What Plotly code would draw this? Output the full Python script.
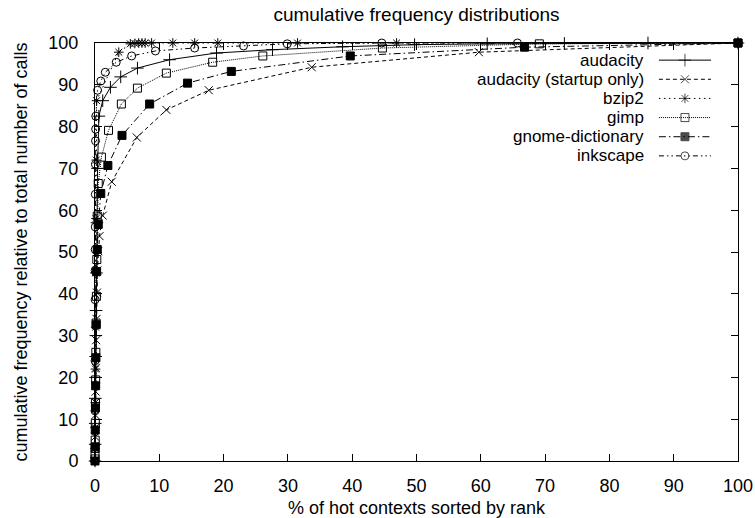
import plotly.graph_objects as go

# ---------------- data ----------------
series_names = ["audacity", "audacity (startup only)", "bzip2", "gimp",
                "gnome-dictionary", "inkscape"]

audacity_x = [0, 0.02, 0.04, 0.06, 0.08, 0.1, 0.13, 0.17, 0.22, 0.3, 0.4, 0.6, 1.2,
              2.4, 4.0, 6.6, 11.6, 18.9, 27.6, 38.5, 49.7, 61, 73, 86, 100]
audacity_y = [0, 4, 9, 15, 20, 25, 30, 36, 45, 57, 70, 82.5, 86.2,
              89.4, 91.9, 94.0, 96.0, 97.6, 98.4, 99.1, 99.6, 99.8, 99.9, 100, 100]

startup_x = [0, 0.03, 0.06, 0.1, 0.14, 0.18, 0.24, 0.3, 0.38, 0.5, 0.7, 1.2,
             2.6, 6.5, 11.1, 17.7, 33.7, 59.7, 100]
startup_y = [0, 5.8, 11, 16.6, 22.3, 28.9, 34, 40.3, 45.6, 50.2, 53.8, 58.7,
             66.8, 77.4, 84.0, 88.7, 94.2, 97.8, 100]

bzip2_x = [0, 0.02, 0.04, 0.06, 0.08, 0.1, 0.13, 0.16, 0.2, 0.25, 3.7, 5.5, 6.2,
           6.8, 7.3, 7.8, 8.8, 12.1, 15.5, 19.1, 31.5, 46.9, 100]
bzip2_y = [0, 3, 8, 14, 22, 32, 45, 58, 72, 86.2, 97.8, 99.8, 99.9,
           100, 100, 100, 100, 100, 100, 100, 100, 100, 100]

gimp_x = [0, 0.01, 0.02, 0.03, 0.05, 0.07, 0.1, 0.13, 0.17, 0.22, 0.28, 0.35, 0.5,
          1.0, 2.1, 4.1, 6.6, 11.1, 18.3, 26.1, 44.7, 69.1, 100]
gimp_y = [0.5, 1.5, 3, 5, 9, 13.9, 19.4, 26, 33, 39.4, 48.2, 58.6, 66.4,
          72.7, 79.1, 85.4, 89.2, 92.8, 95.4, 96.9, 98.8, 99.8, 100]

gnome_x = [0, 0.02, 0.04, 0.07, 0.1, 0.14, 0.18, 0.25, 0.35, 0.5, 0.9, 2.0,
           4.2, 8.5, 14.4, 21.2, 39.7, 66.8, 100]
gnome_y = [0, 3.4, 7.4, 12.7, 18, 24.7, 32.6, 45.3, 50.6, 56.6, 64.0, 70.7,
           77.9, 85.4, 90.4, 93.2, 96.9, 99.0, 100]

inkscape_x = [0, 0.005, 0.01, 0.015, 0.02, 0.03, 0.04, 0.05, 0.06, 0.08, 0.1, 0.12,
              0.4, 0.9, 1.6, 3.3, 5.7, 9.4, 15.5, 23.1, 29.9, 44.6, 65.7, 100]
inkscape_y = [0, 12, 24, 38.6, 45.6, 50.6, 56, 63.8, 71, 76.6, 79.4, 82.5,
              88.7, 90.9, 93.0, 95.4, 96.9, 98.1, 98.8, 99.3, 99.8, 100, 100, 100]

x_ticks = [0, 10, 20, 30, 40, 50, 60, 70, 80, 90, 100]
y_ticks = [0, 10, 20, 30, 40, 50, 60, 70, 80, 90, 100]

# ---------------- styles ----------------
FONT = "Liberation Sans, Arial, Helvetica, sans-serif"
styles = [
    dict(dash="solid", symbol="cross-thin-open", size=9),
    dict(dash="4px,3px", symbol="x-thin-open", size=8),
    dict(dash="1.5px,3.5px", symbol="asterisk-open", size=8),
    dict(dash="1px,1px", symbol="square-open", size=8),
    dict(dash="7px,3px,1.5px,3px", symbol="square", size=8),
    dict(dash="5px,3px,1.5px,3px,1.5px,3px", symbol="circle-open", size=8),
]
xs = [audacity_x, startup_x, bzip2_x, gimp_x, gnome_x, inkscape_x]
ys = [audacity_y, startup_y, bzip2_y, gimp_y, gnome_y, inkscape_y]

fig = go.Figure()
for name, x, y, st in zip(series_names, xs, ys, styles):
    fig.add_trace(go.Scatter(
        x=x, y=y, name=name, mode="lines+markers", cliponaxis=False,
        line=dict(color="black", width=1, dash=st["dash"]),
        marker=dict(symbol=st["symbol"], size=st["size"], color="black",
                    line=dict(color="black", width=1)),
        showlegend=False,
    ))

# ---------------- gnuplot-style legend (text right, sample on right) ----------------
leg_x0, leg_x1 = 0.877, 0.958
leg_text_x = 0.855
leg_top, leg_step = 0.959, 0.0458
for i, (name, st) in enumerate(zip(series_names, styles)):
    yy = leg_top - i * leg_step
    fig.add_trace(go.Scatter(
        x=[leg_x0, (leg_x0 + leg_x1) / 2, leg_x1], y=[yy, yy, yy],
        xaxis="x2", yaxis="y2", mode="lines+markers", showlegend=False,
        hoverinfo="skip",
        line=dict(color="black", width=1, dash=st["dash"]),
        marker=dict(symbol=st["symbol"], size=[0, st["size"], 0], color="black",
                    line=dict(color="black", width=1)),
    ))
    fig.add_annotation(x=leg_text_x, y=yy, xref="paper", yref="paper",
                       text=name, showarrow=False, xanchor="right", yanchor="middle",
                       borderpad=0, font=dict(family=FONT, size=17, color="black"))

axis_common = dict(
    showline=True, linecolor="black", linewidth=1, mirror="allticks",
    ticks="inside", ticklen=7, tickwidth=1, tickcolor="black",
    showgrid=False, zeroline=False, automargin=False,
    tickfont=dict(family=FONT, size=18, color="black"),
)

fig.update_layout(
    width=755, height=518,
    margin=dict(l=95, r=17, t=43, b=57),
    paper_bgcolor="white", plot_bgcolor="white",
    font=dict(family=FONT, size=18, color="black"),
    title=dict(text="cumulative frequency distributions", x=0.5, xref="paper",
               xanchor="center", y=1 - 14 / 518, yref="container", yanchor="middle",
               font=dict(family=FONT, size=19, color="black")),
    xaxis=dict(range=[0, 100], tickvals=x_ticks, ticktext=[str(v) for v in x_ticks],
               title=dict(text="% of hot contexts sorted by rank", standoff=8,
                          font=dict(family=FONT, size=18)),
               ticklabelstandoff=8, **axis_common),
    yaxis=dict(range=[0, 100], tickvals=y_ticks, ticktext=[str(v) for v in y_ticks],
               title=dict(text="cumulative frequency relative to total number of calls",
                          standoff=16, font=dict(family=FONT, size=18)),
               ticklabelstandoff=12, **axis_common),
    xaxis2=dict(range=[0, 1], overlaying="x", visible=False, fixedrange=True),
    yaxis2=dict(range=[0, 1], overlaying="y", visible=False, fixedrange=True),
    showlegend=False,
)

fig.write_html("out.html", config={"displayModeBar": False},
               post_script="document.body.style.margin='0';document.body.style.padding='0';")
